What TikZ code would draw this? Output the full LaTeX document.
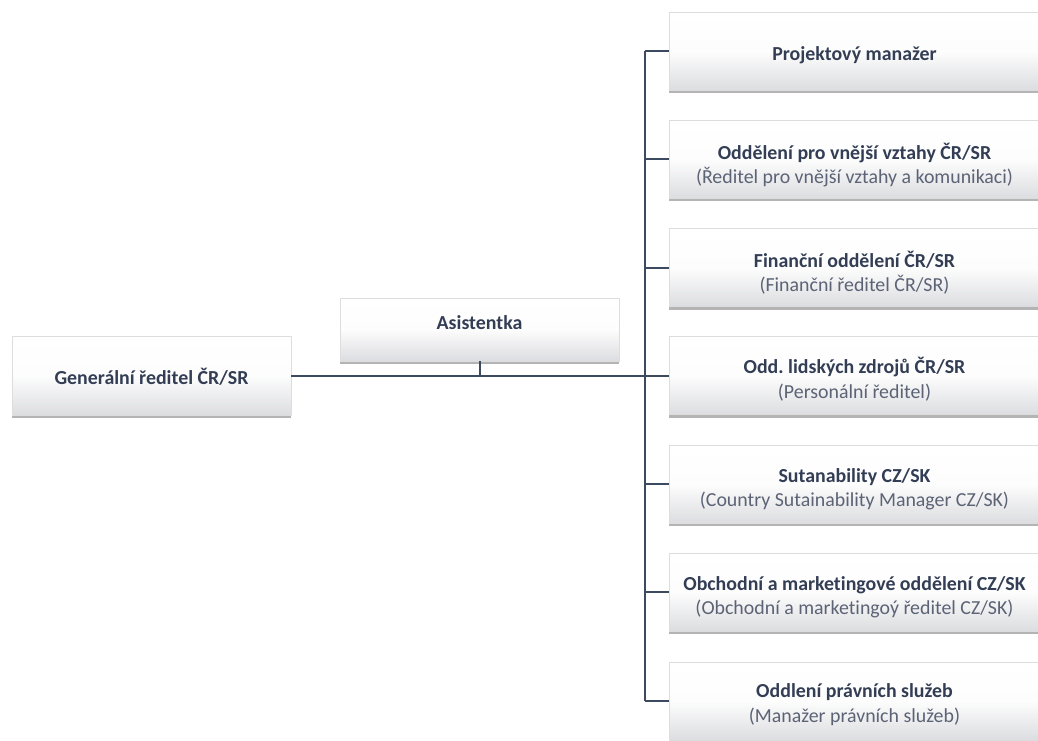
\documentclass[tikz,border=0pt]{standalone}
\usepackage{fontspec}
\setmainfont{Carlito}[Ligatures=CommonOff]
\usetikzlibrary{shadows}
\frenchspacing
\definecolor{linec}{HTML}{3B4A61}
\definecolor{titlec}{HTML}{333E55}
\definecolor{subc}{HTML}{5C6375}
\definecolor{boxbot}{HTML}{DCDDE0}
\definecolor{boxline}{HTML}{DDDDDD}
\tikzset{
  box/.style={rectangle, draw=boxline, line width=0.4pt,
    top color=white, bottom color=boxbot, middle color=white!94!boxbot,
    drop shadow={shadow xshift=0.3pt, shadow yshift=-2.4pt, fill=black!65, opacity=0.45},
    inner sep=0pt},
  rbox/.style={box, minimum width=278.25pt, minimum height=58.5pt},
  lbox/.style={box, minimum width=209.25pt, minimum height=59.25pt},
  abox/.style={box, minimum width=209.25pt, minimum height=47.25pt},
  txt/.style={inner sep=0pt, align=center, font=\fontsize{14.9}{18.5}\selectfont},
  conn/.style={draw=linec, line width=1.5pt},
}
\newcommand{\tl}[1]{{\color{titlec}\bfseries #1}}
\newcommand{\st}[1]{{\color{subc}#1}}
\begin{document}
\begin{tikzpicture}[x=0.75pt,y=-0.75pt]
\useasboundingbox (0,0) rectangle (1038,740);
\clip (0,0) rectangle (1038,740);
\fill[white] (0,0) rectangle (1038,740);

\node[lbox] (g) at (151.5,375.5) {};
\node[txt] (tg) at ([yshift=-1pt]g.center) {\tl{Generální ředitel ČR/SR}};
\node[abox] (a) at (479.5,329.5) {};
\node[txt] (ta) at ([yshift=5.25pt]a.center) {\tl{Asistentka}};

\node[rbox] (b1) at (854.5,51) {};
\node[rbox] (b2) at (854.5,159) {};
\node[rbox] (b3) at (854.5,267.5) {};
\node[rbox] (b4) at (854.5,375.5) {};
\node[rbox] (b5) at (854.5,484) {};
\node[rbox] (b6) at (854.5,592) {};
\node[rbox] (b7) at (854.5,701) {};
\node[txt] (t1) at ([yshift=-3.5pt]b1.center) {\tl{Projektový manažer}};
\node[txt] (t2) at ([yshift=-4.5pt]b2.center) {\tl{Oddělení pro vnější vztahy ČR/SR}\\\st{(Ředitel pro vnější vztahy a komunikaci)}};
\node[txt] (t3) at ([yshift=-4pt]b3.center) {\tl{Finanční oddělení ČR/SR}\\\st{(Finanční ředitel ČR/SR)}};
\node[txt] (t4) at ([yshift=-3pt]b4.center) {\tl{Odd. lidských zdrojů ČR/SR}\\\st{(Personální ředitel)}};
\node[txt] (t5) at ([yshift=-4pt]b5.center) {\tl{Sutanability CZ/SK}\\\st{(Country Sutainability Manager CZ/SK)}};
\node[txt] (t6) at ([yshift=-4pt]b6.center) {\tl{Obchodní a marketingové oddělení CZ/SK}\\\st{(Obchodní a marketingoý ředitel CZ/SK)}};
\node[txt] (t7) at ([yshift=-2.5pt]b7.center) {\tl{Oddlení právních služeb}\\\st{(Manažer právních služeb)}};

\coordinate (bt) at (645,51);
\coordinate (bb) at (645,701);
\draw[conn] (bt) -- (bb);
\foreach \i in {1,...,7} {
  \draw[conn] (b\i.west) -- (b\i.west -| bt);
}
\draw[conn] (g.east) -- (g.east -| bt);
\draw[conn] (a.south) -- (a.south |- g.east);
\end{tikzpicture}
\end{document}
